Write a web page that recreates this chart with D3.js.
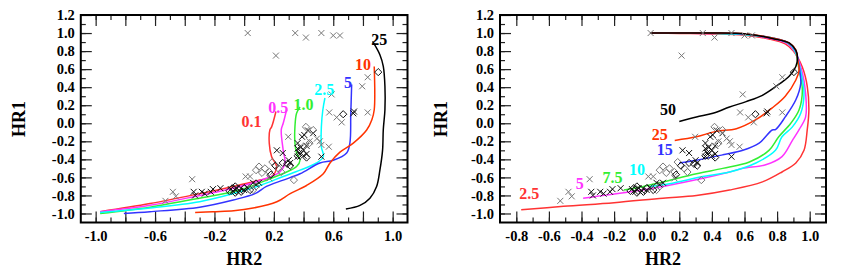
<!DOCTYPE html>
<html><head><meta charset="utf-8">
<script src="https://cdn.jsdelivr.net/npm/d3@7"></script>
<style>
body{margin:0;background:#fff;}
svg{display:block;font-family:"Liberation Serif","DejaVu Serif",serif;font-weight:bold;}
</style></head>
<body>
<svg id="chart" width="858" height="275"></svg>
<script>
// ---------------- DATA ----------------
const yTickLabels = [-1.0,-0.8,-0.6,-0.4,-0.2,0.0,0.2,0.4,0.6,0.8,1.0,1.2];
const leftXTickLabels = [-1.0,-0.6,-0.2,0.2,0.6,1.0];
const rightXTickLabels = [-0.8,-0.6,-0.4,-0.2,0.0,0.2,0.4,0.6,0.8,1.0];

// left panel curves (photon index grid), labels = values
const leftNames = ["0.1","0.5","1.0","2.5","5","10","25"];
const leftColors = ["#ff3333","#ff33ff","#33ee33","#00ffff","#3333ff","#ff3300","#000000"];
const left_0_1 = [[-0.97,-0.98],[-0.634,-0.89],[-0.30,-0.78],[-0.073,-0.70],[0.106,-0.63],[0.185,-0.59],[0.219,-0.48],[0.185,-0.37],[0.169,-0.22],[0.174,-0.07],[0.185,-0.04],[0.214,0.13]];
const left_0_5 = [[-0.97,-0.98],[-0.634,-0.91],[-0.30,-0.80],[-0.073,-0.72],[0.15,-0.61],[0.24,-0.54],[0.275,-0.44],[0.263,-0.30],[0.25,-0.07],[0.263,0.0],[0.286,0.15]];
const left_1_0 = [[-0.97,-1.0],[-0.634,-0.93],[-0.30,-0.83],[-0.028,-0.74],[0.15,-0.63],[0.286,-0.54],[0.353,-0.48],[0.376,-0.41],[0.353,-0.33],[0.342,-0.22],[0.342,-0.04],[0.353,0.11],[0.376,0.18]];
const left_2_5 = [[-0.97,-0.99],[-0.634,-0.94],[-0.30,-0.87],[-0.073,-0.78],[0.106,-0.69],[0.263,-0.59],[0.376,-0.52],[0.488,-0.44],[0.533,-0.37],[0.52,-0.26],[0.52,-0.04],[0.53,0.15],[0.544,0.28]];
const left_5 = [[-0.81,-1.0],[-0.634,-0.98],[-0.30,-0.93],[-0.073,-0.85],[0.073,-0.78],[0.15,-0.70],[0.263,-0.63],[0.376,-0.56],[0.51,-0.44],[0.60,-0.41],[0.69,-0.33],[0.712,-0.22],[0.718,0.1],[0.724,0.43]];
const left_10 = [[-0.33,-0.99],[-0.21,-0.98],[-0.07,-0.97],[0.06,-0.94],[0.22,-0.87],[0.31,-0.78],[0.42,-0.69],[0.533,-0.56],[0.578,-0.44],[0.645,-0.32],[0.735,-0.22],[0.825,-0.075],[0.86,0.04],[0.876,0.15],[0.876,0.63]];
const left_25 = [[0.685,-0.95],[0.78,-0.91],[0.847,-0.83],[0.892,-0.70],[0.914,-0.52],[0.932,-0.30],[0.937,-0.07],[0.948,0.15],[0.948,0.41],[0.937,0.63],[0.914,0.76],[0.865,0.907]];
const leftLabelPos = [[0.05,0.02],[0.23,0.18],[0.40,0.21],[0.54,0.37],[0.70,0.45],[0.80,0.65],[0.91,0.93]];

// right panel curves (column density grid)
const rightNames = ["2.5","5","7.5","10","15","25","50"];
const rightColors = ["#ff3333","#ff33ff","#33ee33","#00ffff","#3333ff","#ff3300","#000000"];
const right_2_5 = [[-0.77,-0.96],[-0.51,-0.92],[-0.2,-0.88],[0.1,-0.83],[0.305,-0.80],[0.508,-0.74],[0.71,-0.65],[0.83,-0.54],[0.915,-0.44],[0.965,-0.30],[0.985,-0.07],[0.995,0.15],[0.985,0.41],[0.955,0.62],[0.90,0.80],[0.85,0.88],[0.75,0.935],[0.6,0.975],[0.4,0.99],[0.2,0.995],[0.02,1.0]];
const right_5 = [[-0.39,-0.83],[-0.305,-0.81],[-0.10,-0.76],[0.1,-0.70],[0.345,-0.61],[0.508,-0.54],[0.59,-0.50],[0.73,-0.46],[0.83,-0.37],[0.894,-0.19],[0.935,-0.07],[0.975,0.07],[0.975,0.33],[0.955,0.56],[0.91,0.79],[0.86,0.885],[0.76,0.94],[0.6,0.98],[0.4,0.995],[0.2,0.998],[0.02,1.0]];
const right_7_5 = [[-0.14,-0.74],[-0.02,-0.70],[0.1,-0.65],[0.305,-0.56],[0.467,-0.50],[0.63,-0.43],[0.75,-0.30],[0.81,-0.15],[0.884,0.0],[0.935,0.15],[0.955,0.37],[0.935,0.59],[0.91,0.80],[0.865,0.89],[0.77,0.945],[0.6,0.985],[0.4,0.997],[0.2,1.0],[0.02,1.0]];
const right_10 = [[0.02,-0.70],[0.14,-0.67],[0.345,-0.59],[0.508,-0.54],[0.67,-0.44],[0.79,-0.30],[0.83,-0.15],[0.894,-0.04],[0.945,0.11],[0.965,0.33],[0.945,0.58],[0.91,0.80],[0.867,0.89],[0.77,0.945],[0.6,0.985],[0.4,0.997],[0.2,1.0],[0.02,1.0]];
const right_15 = [[0.2,-0.44],[0.305,-0.41],[0.467,-0.35],[0.59,-0.30],[0.69,-0.22],[0.77,-0.075],[0.79,-0.07],[0.85,0.07],[0.915,0.26],[0.945,0.44],[0.935,0.63],[0.915,0.80],[0.87,0.89],[0.77,0.945],[0.6,0.988],[0.4,0.998],[0.2,1.0],[0.02,1.0]];
const right_25 = [[0.172,-0.19],[0.305,-0.15],[0.426,-0.09],[0.55,-0.06],[0.67,0.04],[0.77,0.17],[0.85,0.30],[0.915,0.48],[0.935,0.59],[0.925,0.72],[0.915,0.81],[0.874,0.89],[0.77,0.945],[0.61,0.99],[0.406,1.0],[0.2,1.0],[0.02,1.0]];
const right_50 = [[0.2,0.02],[0.305,0.07],[0.406,0.11],[0.508,0.18],[0.61,0.24],[0.71,0.31],[0.81,0.43],[0.874,0.52],[0.915,0.63],[0.925,0.72],[0.915,0.81],[0.874,0.89],[0.77,0.94],[0.61,0.99],[0.406,1.0],[0.2,1.0],[0.02,1.0]];
const rightLabelPos = [[-0.72,-0.78],[-0.41,-0.67],[-0.21,-0.60],[-0.06,-0.51],[0.11,-0.29],[0.08,-0.12],[0.13,0.15]];

// observed sources (same in both panels): [HR2, HR1]
const crossesGrey = [[0.024,1.0],[0.344,1.0],[0.416,0.95],[0.52,1.0],[0.60,0.973],[0.645,0.973],[0.214,0.75],[0.589,0.32],[0.795,0.41],[0.832,0.51],[0.832,0.12],[0.573,0.12],[0.623,0.065],[0.657,0.01],
  [-0.53,-0.86],[-0.48,-0.76],[-0.46,-0.81],[-0.35,-0.62],[0.297,-0.15],[0.49,-0.17],[0.51,-0.20],[0.52,-0.24],[0.57,-0.26],[0.44,-0.20],[0.01,-0.59],[0.04,-0.59],[0.17,-0.61]];
const crossesBlack = [[0.735,0.11],[0.74,0.13],[-0.34,-0.76],[-0.33,-0.80],[-0.285,-0.76],[-0.265,-0.78],[-0.225,-0.76],[-0.21,-0.73],[-0.16,-0.72],
  [0.08,-0.68],[0.22,-0.30],[0.26,-0.33],[0.36,-0.22],[0.38,-0.27],[0.39,-0.15],[0.40,-0.30],[0.405,-0.13],[0.43,-0.08],[0.465,-0.11],[0.52,-0.37],
  [-0.09,-0.73],[-0.07,-0.76],[-0.05,-0.72],[-0.03,-0.75],[0.0,-0.74],[0.02,-0.71],[0.06,-0.66],[0.1,-0.66],
  [0.30,-0.41],[0.31,-0.44],[0.36,-0.37],[0.37,-0.33],[0.40,-0.36],[0.42,-0.34],[0.36,-0.28],[0.42,-0.25]];
const diamondsGrey = [[0.416,-0.04],[0.465,-0.075],[0.335,-0.63],[0.10,-0.48],[0.14,-0.50],[0.17,-0.54],[0.19,-0.43],[0.23,-0.50],[0.25,-0.54],[0.08,-0.52],[0.12,-0.55],[0.06,-0.74],[0.08,-0.70],[0.44,-0.22],[0.40,-0.26]];
const diamondsBlack = [[0.903,0.567],[0.667,0.1],[0.18,-0.57],[0.26,-0.44],[0.21,-0.47],[-0.1,-0.75],[-0.08,-0.72],[-0.06,-0.77],[-0.04,-0.73],[-0.02,-0.76],[0.0,-0.72],[0.04,-0.74],[-0.06,-0.70],[0.38,-0.30],[0.42,-0.38],[0.36,-0.36],[0.29,-0.45],[0.31,-0.47]];

// ---------------- DRAW ----------------
const svg = d3.select("#chart");

function panel(opts){
  const x = d3.scaleLinear().domain(opts.xDomain).range(opts.xRange);
  const y = d3.scaleLinear().domain([-1.1,1.2]).range([222.5,15]);
  const g = svg.append("g");
  const [x0,x1] = opts.xRange, [y0,y1] = [222.5,15];

  const minorX = d3.range(Math.ceil(opts.xDomain[0]*10+0.001), Math.floor(opts.xDomain[1]*10-0.001)+1).map(d=>d/10);
  const majorX = minorX.filter(d=>Math.abs(Math.round(d*10))%2===0);
  const minorY = d3.range(-10,12).map(d=>d/10);
  const majorY = yTickLabels;
  const fmt = v => (Math.abs(v)<1e-9?0:v).toFixed(1);
  const labX = opts.xLabels.map(v=>Math.round(v*10));

  function style(sel){ sel.select(".domain").remove(); sel.selectAll("line").attr("stroke","#222").attr("stroke-width",1.2); }

  // bottom
  g.append("g").attr("transform",`translate(0,${y0})`).call(d3.axisBottom(x).tickValues(minorX).tickSize(-5).tickFormat("")).call(style);
  const bx = g.append("g").attr("transform",`translate(0,${y0})`).call(d3.axisBottom(x).tickValues(majorX).tickSize(-11).tickPadding(8)
     .tickFormat(v=> labX.includes(Math.round(v*10)) ? fmt(v) : "")).call(style);
  bx.selectAll("text").attr("font-family","Liberation Serif").attr("font-weight","bold").attr("font-size",14.5).attr("fill","#000");
  // top
  g.append("g").attr("transform",`translate(0,${y1})`).call(d3.axisTop(x).tickValues(minorX).tickSize(-5).tickFormat("")).call(style);
  g.append("g").attr("transform",`translate(0,${y1})`).call(d3.axisTop(x).tickValues(majorX).tickSize(-11).tickFormat("")).call(style);
  // left
  g.append("g").attr("transform",`translate(${x0},0)`).call(d3.axisLeft(y).tickValues(minorY).tickSize(-5).tickFormat("")).call(style);
  const ly = g.append("g").attr("transform",`translate(${x0},0)`).call(d3.axisLeft(y).tickValues(majorY).tickSize(-11).tickPadding(6).tickFormat(fmt)).call(style);
  ly.selectAll("text").attr("font-family","Liberation Serif").attr("font-weight","bold").attr("font-size",14.5).attr("fill","#000");
  // right
  g.append("g").attr("transform",`translate(${x1},0)`).call(d3.axisRight(y).tickValues(minorY).tickSize(-5).tickFormat("")).call(style);
  g.append("g").attr("transform",`translate(${x1},0)`).call(d3.axisRight(y).tickValues(majorY).tickSize(-11).tickFormat("")).call(style);

  // clip
  const cid = "clip"+opts.id;
  svg.append("clipPath").attr("id",cid).append("rect").attr("x",x0).attr("y",y1).attr("width",x1-x0).attr("height",y0-y1);
  const pg = g.append("g").attr("clip-path",`url(#${cid})`);

  const line = d3.line().x(d=>x(d[0])).y(d=>y(d[1])).curve(d3.curveCatmullRom.alpha(0.5));
  opts.curves.forEach((c,i)=>{
    pg.append("path").attr("d",line(c)).attr("fill","none").attr("stroke",opts.colors[i]).attr("stroke-width",1.5);
  });

  // points
  const cs = 3;
  [[crossesGrey,"#777"],[crossesBlack,"#111"]].forEach(([arr,col])=>{
    pg.selectAll(null).data(arr).enter().append("path")
      .attr("d",d=>{const px=x(d[0]),py=y(d[1]);return `M${px-cs},${py-cs}L${px+cs},${py+cs}M${px-cs},${py+cs}L${px+cs},${py-cs}`;})
      .attr("stroke",col).attr("stroke-width",1).attr("fill","none");
  });
  const ds = 3.6;
  [[diamondsGrey,"#777"],[diamondsBlack,"#111"]].forEach(([arr,col])=>{
    pg.selectAll(null).data(arr).enter().append("path")
      .attr("d",d=>{const px=x(d[0]),py=y(d[1]);return `M${px},${py-ds}L${px+ds},${py}L${px},${py+ds}L${px-ds},${py}Z`;})
      .attr("stroke",col).attr("stroke-width",1).attr("fill","none");
  });

  // curve labels
  opts.names.forEach((n,i)=>{
    g.append("text").attr("x",x(opts.labelPos[i][0])).attr("y",y(opts.labelPos[i][1])).attr("text-anchor","middle")
      .attr("dy","0.35em").attr("font-size",16).attr("fill",opts.colors[i]).text(n);
  });

  // frame
  g.append("rect").attr("x",x0).attr("y",y1).attr("width",x1-x0).attr("height",y0-y1).attr("fill","none").attr("stroke","#000").attr("stroke-width",2);

  // axis titles
  g.append("text").attr("x",(x0+x1)/2).attr("y",265).attr("text-anchor","middle").attr("font-size",18).text("HR2");
  g.append("text").attr("transform",`translate(${opts.yTitleX},119) rotate(-90)`).attr("text-anchor","middle").attr("font-size",18).text("HR1");
}

panel({id:"L", xDomain:[-1.1,1.1], xRange:[80.8,407.5], xLabels:leftXTickLabels,
  curves:[left_0_1,left_0_5,left_1_0,left_2_5,left_5,left_10,left_25], colors:leftColors, names:leftNames, labelPos:leftLabelPos, yTitleX:25});
panel({id:"R", xDomain:[-0.9,1.1], xRange:[500,826], xLabels:rightXTickLabels,
  curves:[right_2_5,right_5,right_7_5,right_10,right_15,right_25,right_50], colors:rightColors, names:rightNames, labelPos:rightLabelPos, yTitleX:447});
</script>
</body></html>
